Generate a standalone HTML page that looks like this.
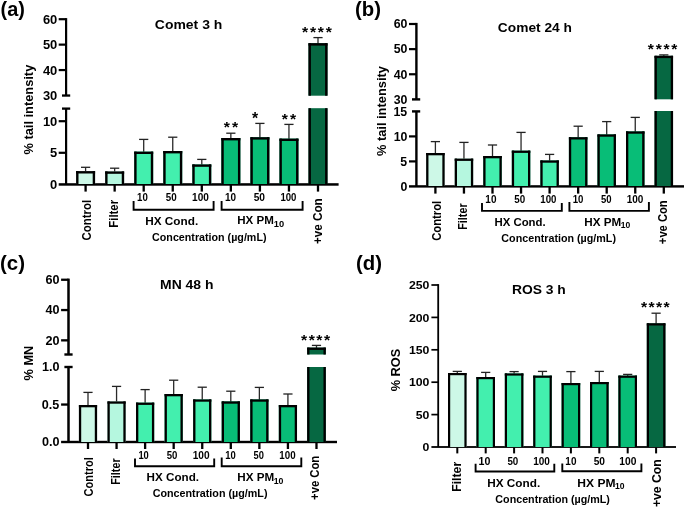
<!DOCTYPE html>
<html><head><meta charset="utf-8"><style>
html,body{margin:0;padding:0;background:#fff;}
body{width:685px;height:511px;overflow:hidden;}
svg{display:block;font-family:"Liberation Sans", sans-serif;will-change:transform;}
</style></head><body>
<svg width="685" height="511" viewBox="0 0 685 511">
<rect x="65.00" y="18.10" width="2.20" height="77.39" fill="#000"/>
<rect x="58.70" y="18.10" width="7.40" height="2.20" fill="#000"/>
<rect x="58.70" y="43.53" width="7.40" height="2.20" fill="#000"/>
<rect x="58.70" y="68.96" width="7.40" height="2.20" fill="#000"/>
<rect x="62.00" y="94.39" width="8.20" height="2.30" fill="#000"/>
<rect x="65.00" y="108.56" width="2.20" height="75.84" fill="#000"/>
<rect x="62.00" y="107.46" width="8.20" height="2.30" fill="#000"/>
<rect x="58.70" y="120.10" width="7.40" height="2.20" fill="#000"/>
<rect x="58.70" y="151.70" width="7.40" height="2.20" fill="#000"/>
<rect x="58.70" y="183.20" width="279.90" height="2.50" fill="#000"/>
<text x="42.93" y="23.80" font-size="12" font-weight="bold" textLength="14.42" lengthAdjust="spacingAndGlyphs" fill="#000">60</text>
<text x="42.93" y="49.23" font-size="12" font-weight="bold" textLength="14.42" lengthAdjust="spacingAndGlyphs" fill="#000">50</text>
<text x="42.93" y="74.66" font-size="12" font-weight="bold" textLength="14.42" lengthAdjust="spacingAndGlyphs" fill="#000">40</text>
<text x="42.93" y="100.09" font-size="12" font-weight="bold" textLength="14.42" lengthAdjust="spacingAndGlyphs" fill="#000">30</text>
<text x="42.93" y="125.80" font-size="12" font-weight="bold" textLength="14.42" lengthAdjust="spacingAndGlyphs" fill="#000">10</text>
<text x="49.93" y="157.40" font-size="12" font-weight="bold" textLength="7.21" lengthAdjust="spacingAndGlyphs" fill="#000">5</text>
<text x="50.13" y="189.00" font-size="12" font-weight="bold" textLength="7.21" lengthAdjust="spacingAndGlyphs" fill="#000">0</text>
<line x1="85.60" y1="167.30" x2="85.60" y2="172.10" stroke="#2a2a2a" stroke-width="1.3"/>
<line x1="81.00" y1="167.30" x2="90.20" y2="167.30" stroke="#222" stroke-width="1.3"/>
<rect x="76.10" y="171.10" width="19.00" height="12.90" fill="#cdf8e7"/>
<rect x="76.10" y="171.10" width="2.40" height="12.90" fill="#000"/>
<rect x="92.70" y="171.10" width="2.40" height="12.90" fill="#000"/>
<rect x="76.10" y="171.10" width="19.00" height="2.40" fill="#000"/>
<line x1="114.65" y1="168.20" x2="114.65" y2="172.40" stroke="#2a2a2a" stroke-width="1.3"/>
<line x1="110.05" y1="168.20" x2="119.25" y2="168.20" stroke="#222" stroke-width="1.3"/>
<rect x="105.15" y="171.40" width="19.00" height="12.60" fill="#b5f7df"/>
<rect x="105.15" y="171.40" width="2.40" height="12.60" fill="#000"/>
<rect x="121.75" y="171.40" width="2.40" height="12.60" fill="#000"/>
<rect x="105.15" y="171.40" width="19.00" height="2.40" fill="#000"/>
<line x1="143.70" y1="139.40" x2="143.70" y2="152.60" stroke="#2a2a2a" stroke-width="1.3"/>
<line x1="139.10" y1="139.40" x2="148.30" y2="139.40" stroke="#222" stroke-width="1.3"/>
<rect x="134.20" y="151.60" width="19.00" height="32.40" fill="#43efae"/>
<rect x="134.20" y="151.60" width="2.40" height="32.40" fill="#000"/>
<rect x="150.80" y="151.60" width="2.40" height="32.40" fill="#000"/>
<rect x="134.20" y="151.60" width="19.00" height="2.40" fill="#000"/>
<line x1="172.75" y1="137.20" x2="172.75" y2="152.00" stroke="#2a2a2a" stroke-width="1.3"/>
<line x1="168.15" y1="137.20" x2="177.35" y2="137.20" stroke="#222" stroke-width="1.3"/>
<rect x="163.25" y="151.00" width="19.00" height="33.00" fill="#43efae"/>
<rect x="163.25" y="151.00" width="2.40" height="33.00" fill="#000"/>
<rect x="179.85" y="151.00" width="2.40" height="33.00" fill="#000"/>
<rect x="163.25" y="151.00" width="19.00" height="2.40" fill="#000"/>
<line x1="201.80" y1="159.40" x2="201.80" y2="165.40" stroke="#2a2a2a" stroke-width="1.3"/>
<line x1="197.20" y1="159.40" x2="206.40" y2="159.40" stroke="#222" stroke-width="1.3"/>
<rect x="192.30" y="164.40" width="19.00" height="19.60" fill="#43efae"/>
<rect x="192.30" y="164.40" width="2.40" height="19.60" fill="#000"/>
<rect x="208.90" y="164.40" width="2.40" height="19.60" fill="#000"/>
<rect x="192.30" y="164.40" width="19.00" height="2.40" fill="#000"/>
<line x1="230.85" y1="133.20" x2="230.85" y2="139.00" stroke="#2a2a2a" stroke-width="1.3"/>
<line x1="226.25" y1="133.20" x2="235.45" y2="133.20" stroke="#222" stroke-width="1.3"/>
<rect x="221.35" y="138.00" width="19.00" height="46.00" fill="#08bd77"/>
<rect x="221.35" y="138.00" width="2.40" height="46.00" fill="#000"/>
<rect x="237.95" y="138.00" width="2.40" height="46.00" fill="#000"/>
<rect x="221.35" y="138.00" width="19.00" height="2.40" fill="#000"/>
<line x1="259.90" y1="123.40" x2="259.90" y2="138.20" stroke="#2a2a2a" stroke-width="1.3"/>
<line x1="255.30" y1="123.40" x2="264.50" y2="123.40" stroke="#222" stroke-width="1.3"/>
<rect x="250.40" y="137.20" width="19.00" height="46.80" fill="#08bd77"/>
<rect x="250.40" y="137.20" width="2.40" height="46.80" fill="#000"/>
<rect x="267.00" y="137.20" width="2.40" height="46.80" fill="#000"/>
<rect x="250.40" y="137.20" width="19.00" height="2.40" fill="#000"/>
<line x1="288.95" y1="124.40" x2="288.95" y2="139.60" stroke="#2a2a2a" stroke-width="1.3"/>
<line x1="284.35" y1="124.40" x2="293.55" y2="124.40" stroke="#222" stroke-width="1.3"/>
<rect x="279.45" y="138.60" width="19.00" height="45.40" fill="#08bd77"/>
<rect x="279.45" y="138.60" width="2.40" height="45.40" fill="#000"/>
<rect x="296.05" y="138.60" width="2.40" height="45.40" fill="#000"/>
<rect x="279.45" y="138.60" width="19.00" height="2.40" fill="#000"/>
<line x1="318.00" y1="37.60" x2="318.00" y2="44.20" stroke="#2a2a2a" stroke-width="1.3"/>
<line x1="313.40" y1="37.60" x2="322.60" y2="37.60" stroke="#222" stroke-width="1.3"/>
<rect x="308.50" y="43.20" width="19.00" height="52.50" fill="#066842"/>
<rect x="308.50" y="43.20" width="2.40" height="52.50" fill="#000"/>
<rect x="325.10" y="43.20" width="2.40" height="52.50" fill="#000"/>
<rect x="308.50" y="43.20" width="19.00" height="2.40" fill="#000"/>
<rect x="308.50" y="108.20" width="19.00" height="75.80" fill="#066842"/>
<rect x="308.50" y="108.20" width="2.40" height="75.80" fill="#000"/>
<rect x="325.10" y="108.20" width="2.40" height="75.80" fill="#000"/>
<rect x="84.45" y="185.00" width="2.30" height="6.60" fill="#000"/>
<rect x="113.50" y="185.00" width="2.30" height="6.60" fill="#000"/>
<rect x="142.55" y="185.00" width="2.30" height="6.60" fill="#000"/>
<rect x="171.60" y="185.00" width="2.30" height="6.60" fill="#000"/>
<rect x="200.65" y="185.00" width="2.30" height="6.60" fill="#000"/>
<rect x="229.70" y="185.00" width="2.30" height="6.60" fill="#000"/>
<rect x="258.75" y="185.00" width="2.30" height="6.60" fill="#000"/>
<rect x="287.80" y="185.00" width="2.30" height="6.60" fill="#000"/>
<rect x="316.85" y="185.00" width="2.30" height="6.60" fill="#000"/>
<text x="223.82" y="132.43" font-size="15.41" font-weight="bold" textLength="6.14" lengthAdjust="spacingAndGlyphs" fill="#000">*</text>
<text x="231.92" y="132.43" font-size="15.41" font-weight="bold" textLength="6.14" lengthAdjust="spacingAndGlyphs" fill="#000">*</text>
<text x="251.92" y="123.79" font-size="16.22" font-weight="bold" textLength="6.14" lengthAdjust="spacingAndGlyphs" fill="#000">*</text>
<text x="281.72" y="124.44" font-size="15.14" font-weight="bold" textLength="6.14" lengthAdjust="spacingAndGlyphs" fill="#000">*</text>
<text x="289.92" y="124.44" font-size="15.14" font-weight="bold" textLength="6.14" lengthAdjust="spacingAndGlyphs" fill="#000">*</text>
<text x="302.02" y="36.86" font-size="14.86" font-weight="bold" textLength="6.14" lengthAdjust="spacingAndGlyphs" fill="#000">*</text>
<text x="309.92" y="36.86" font-size="14.86" font-weight="bold" textLength="6.14" lengthAdjust="spacingAndGlyphs" fill="#000">*</text>
<text x="317.82" y="36.86" font-size="14.86" font-weight="bold" textLength="6.14" lengthAdjust="spacingAndGlyphs" fill="#000">*</text>
<text x="325.72" y="36.86" font-size="14.86" font-weight="bold" textLength="6.14" lengthAdjust="spacingAndGlyphs" fill="#000">*</text>
<text x="154.84" y="28.90" font-size="13.6" font-weight="bold" textLength="67.48" lengthAdjust="spacingAndGlyphs" fill="#000">Comet 3 h</text>
<text x="0.50" y="15.60" font-size="20" font-weight="bold" textLength="24.34" lengthAdjust="spacingAndGlyphs" fill="#000">(a)</text>
<text transform="translate(33.20,154.52) rotate(-90)" font-size="12.8" font-weight="bold" textLength="89.80" lengthAdjust="spacingAndGlyphs">% tail intensity</text>
<text transform="translate(91.00,240.46) rotate(-90)" font-size="12" font-weight="bold" textLength="40.51" lengthAdjust="spacingAndGlyphs">Control</text>
<text transform="translate(118.00,227.74) rotate(-90)" font-size="12" font-weight="bold" textLength="27.91" lengthAdjust="spacingAndGlyphs">Filter</text>
<text transform="translate(322.00,244.07) rotate(-90)" font-size="12" font-weight="bold" textLength="45.80" lengthAdjust="spacingAndGlyphs">+ve Con</text>
<text x="137.07" y="201.40" font-size="10" font-weight="bold" textLength="10.74" lengthAdjust="spacingAndGlyphs" fill="#000">10</text>
<text x="165.71" y="201.40" font-size="10" font-weight="bold" textLength="10.91" lengthAdjust="spacingAndGlyphs" fill="#000">50</text>
<text x="192.05" y="201.40" font-size="10" font-weight="bold" textLength="16.79" lengthAdjust="spacingAndGlyphs" fill="#000">100</text>
<text x="224.95" y="201.40" font-size="10" font-weight="bold" textLength="11.07" lengthAdjust="spacingAndGlyphs" fill="#000">10</text>
<text x="253.69" y="201.40" font-size="10" font-weight="bold" textLength="11.34" lengthAdjust="spacingAndGlyphs" fill="#000">50</text>
<text x="280.38" y="201.40" font-size="10" font-weight="bold" textLength="16.04" lengthAdjust="spacingAndGlyphs" fill="#000">100</text>
<path d="M133.6,201 V209.8 H213.6 V201" stroke="#000" stroke-width="1.9" fill="none"/>
<path d="M221.6,201 V209.8 H302.6 V201" stroke="#000" stroke-width="1.9" fill="none"/>
<text x="145.23" y="224.80" font-size="11" font-weight="bold" textLength="52.99" lengthAdjust="spacingAndGlyphs" fill="#000">HX Cond.</text>
<text x="237.25" y="224.10" font-size="11" font-weight="bold" textLength="36.63" lengthAdjust="spacingAndGlyphs" fill="#000">HX PM</text>
<text x="273.89" y="226.60" font-size="9" font-weight="bold" textLength="10.40" lengthAdjust="spacingAndGlyphs" fill="#000">10</text>
<text x="152.07" y="240.80" font-size="10.8" font-weight="bold" textLength="114.43" lengthAdjust="spacingAndGlyphs" fill="#000">Concentration (µg/mL)</text>
<rect x="415.20" y="22.90" width="2.40" height="76.49" fill="#000"/>
<rect x="409.00" y="22.90" width="7.40" height="2.20" fill="#000"/>
<rect x="409.00" y="48.03" width="7.40" height="2.20" fill="#000"/>
<rect x="409.00" y="73.16" width="7.40" height="2.20" fill="#000"/>
<rect x="412.00" y="98.19" width="8.20" height="2.40" fill="#000"/>
<rect x="415.20" y="111.40" width="2.40" height="75.00" fill="#000"/>
<rect x="412.00" y="110.20" width="8.20" height="2.40" fill="#000"/>
<rect x="409.00" y="135.30" width="7.40" height="2.20" fill="#000"/>
<rect x="409.00" y="160.30" width="7.40" height="2.20" fill="#000"/>
<rect x="409.00" y="185.20" width="275.00" height="2.40" fill="#000"/>
<text x="393.67" y="28.30" font-size="12" font-weight="bold" textLength="13.75" lengthAdjust="spacingAndGlyphs" fill="#000">60</text>
<text x="393.67" y="53.43" font-size="12" font-weight="bold" textLength="13.75" lengthAdjust="spacingAndGlyphs" fill="#000">50</text>
<text x="393.67" y="78.56" font-size="12" font-weight="bold" textLength="13.75" lengthAdjust="spacingAndGlyphs" fill="#000">40</text>
<text x="393.67" y="103.69" font-size="12" font-weight="bold" textLength="13.75" lengthAdjust="spacingAndGlyphs" fill="#000">30</text>
<text x="393.49" y="115.70" font-size="12" font-weight="bold" textLength="13.75" lengthAdjust="spacingAndGlyphs" fill="#000">15</text>
<text x="393.67" y="140.70" font-size="12" font-weight="bold" textLength="13.75" lengthAdjust="spacingAndGlyphs" fill="#000">10</text>
<text x="400.35" y="165.70" font-size="12" font-weight="bold" textLength="6.87" lengthAdjust="spacingAndGlyphs" fill="#000">5</text>
<text x="400.53" y="190.70" font-size="12" font-weight="bold" textLength="6.87" lengthAdjust="spacingAndGlyphs" fill="#000">0</text>
<line x1="435.40" y1="141.60" x2="435.40" y2="154.00" stroke="#2a2a2a" stroke-width="1.3"/>
<line x1="430.80" y1="141.60" x2="440.00" y2="141.60" stroke="#222" stroke-width="1.3"/>
<rect x="426.15" y="153.00" width="18.50" height="33.00" fill="#cdf8e7"/>
<rect x="426.15" y="153.00" width="2.30" height="33.00" fill="#000"/>
<rect x="442.35" y="153.00" width="2.30" height="33.00" fill="#000"/>
<rect x="426.15" y="153.00" width="18.50" height="2.30" fill="#000"/>
<line x1="463.95" y1="142.40" x2="463.95" y2="159.60" stroke="#2a2a2a" stroke-width="1.3"/>
<line x1="459.35" y1="142.40" x2="468.55" y2="142.40" stroke="#222" stroke-width="1.3"/>
<rect x="454.70" y="158.60" width="18.50" height="27.40" fill="#b5f7df"/>
<rect x="454.70" y="158.60" width="2.30" height="27.40" fill="#000"/>
<rect x="470.90" y="158.60" width="2.30" height="27.40" fill="#000"/>
<rect x="454.70" y="158.60" width="18.50" height="2.30" fill="#000"/>
<line x1="492.50" y1="145.00" x2="492.50" y2="157.00" stroke="#2a2a2a" stroke-width="1.3"/>
<line x1="487.90" y1="145.00" x2="497.10" y2="145.00" stroke="#222" stroke-width="1.3"/>
<rect x="483.25" y="156.00" width="18.50" height="30.00" fill="#43efae"/>
<rect x="483.25" y="156.00" width="2.30" height="30.00" fill="#000"/>
<rect x="499.45" y="156.00" width="2.30" height="30.00" fill="#000"/>
<rect x="483.25" y="156.00" width="18.50" height="2.30" fill="#000"/>
<line x1="521.05" y1="132.40" x2="521.05" y2="151.60" stroke="#2a2a2a" stroke-width="1.3"/>
<line x1="516.45" y1="132.40" x2="525.65" y2="132.40" stroke="#222" stroke-width="1.3"/>
<rect x="511.80" y="150.60" width="18.50" height="35.40" fill="#43efae"/>
<rect x="511.80" y="150.60" width="2.30" height="35.40" fill="#000"/>
<rect x="528.00" y="150.60" width="2.30" height="35.40" fill="#000"/>
<rect x="511.80" y="150.60" width="18.50" height="2.30" fill="#000"/>
<line x1="549.60" y1="154.40" x2="549.60" y2="161.40" stroke="#2a2a2a" stroke-width="1.3"/>
<line x1="545.00" y1="154.40" x2="554.20" y2="154.40" stroke="#222" stroke-width="1.3"/>
<rect x="540.35" y="160.40" width="18.50" height="25.60" fill="#43efae"/>
<rect x="540.35" y="160.40" width="2.30" height="25.60" fill="#000"/>
<rect x="556.55" y="160.40" width="2.30" height="25.60" fill="#000"/>
<rect x="540.35" y="160.40" width="18.50" height="2.30" fill="#000"/>
<line x1="578.15" y1="126.20" x2="578.15" y2="138.20" stroke="#2a2a2a" stroke-width="1.3"/>
<line x1="573.55" y1="126.20" x2="582.75" y2="126.20" stroke="#222" stroke-width="1.3"/>
<rect x="568.90" y="137.20" width="18.50" height="48.80" fill="#08bd77"/>
<rect x="568.90" y="137.20" width="2.30" height="48.80" fill="#000"/>
<rect x="585.10" y="137.20" width="2.30" height="48.80" fill="#000"/>
<rect x="568.90" y="137.20" width="18.50" height="2.30" fill="#000"/>
<line x1="606.70" y1="121.60" x2="606.70" y2="135.40" stroke="#2a2a2a" stroke-width="1.3"/>
<line x1="602.10" y1="121.60" x2="611.30" y2="121.60" stroke="#222" stroke-width="1.3"/>
<rect x="597.45" y="134.40" width="18.50" height="51.60" fill="#08bd77"/>
<rect x="597.45" y="134.40" width="2.30" height="51.60" fill="#000"/>
<rect x="613.65" y="134.40" width="2.30" height="51.60" fill="#000"/>
<rect x="597.45" y="134.40" width="18.50" height="2.30" fill="#000"/>
<line x1="635.25" y1="117.40" x2="635.25" y2="132.40" stroke="#2a2a2a" stroke-width="1.3"/>
<line x1="630.65" y1="117.40" x2="639.85" y2="117.40" stroke="#222" stroke-width="1.3"/>
<rect x="626.00" y="131.40" width="18.50" height="54.60" fill="#08bd77"/>
<rect x="626.00" y="131.40" width="2.30" height="54.60" fill="#000"/>
<rect x="642.20" y="131.40" width="2.30" height="54.60" fill="#000"/>
<rect x="626.00" y="131.40" width="18.50" height="2.30" fill="#000"/>
<line x1="663.80" y1="54.90" x2="663.80" y2="56.80" stroke="#2a2a2a" stroke-width="1.3"/>
<line x1="659.20" y1="54.90" x2="668.40" y2="54.90" stroke="#222" stroke-width="1.3"/>
<rect x="654.55" y="55.80" width="18.50" height="43.50" fill="#066842"/>
<rect x="654.55" y="55.80" width="2.30" height="43.50" fill="#000"/>
<rect x="670.75" y="55.80" width="2.30" height="43.50" fill="#000"/>
<rect x="654.55" y="55.80" width="18.50" height="2.30" fill="#000"/>
<rect x="654.55" y="111.00" width="18.50" height="75.00" fill="#066842"/>
<rect x="654.55" y="111.00" width="2.30" height="75.00" fill="#000"/>
<rect x="670.75" y="111.00" width="2.30" height="75.00" fill="#000"/>
<rect x="434.25" y="187.00" width="2.30" height="6.60" fill="#000"/>
<rect x="462.80" y="187.00" width="2.30" height="6.60" fill="#000"/>
<rect x="491.35" y="187.00" width="2.30" height="6.60" fill="#000"/>
<rect x="519.90" y="187.00" width="2.30" height="6.60" fill="#000"/>
<rect x="548.45" y="187.00" width="2.30" height="6.60" fill="#000"/>
<rect x="577.00" y="187.00" width="2.30" height="6.60" fill="#000"/>
<rect x="605.55" y="187.00" width="2.30" height="6.60" fill="#000"/>
<rect x="634.10" y="187.00" width="2.30" height="6.60" fill="#000"/>
<rect x="662.65" y="187.00" width="2.30" height="6.60" fill="#000"/>
<text x="647.82" y="53.57" font-size="14.59" font-weight="bold" textLength="6.14" lengthAdjust="spacingAndGlyphs" fill="#000">*</text>
<text x="655.65" y="53.57" font-size="14.59" font-weight="bold" textLength="6.14" lengthAdjust="spacingAndGlyphs" fill="#000">*</text>
<text x="663.49" y="53.57" font-size="14.59" font-weight="bold" textLength="6.14" lengthAdjust="spacingAndGlyphs" fill="#000">*</text>
<text x="671.32" y="53.57" font-size="14.59" font-weight="bold" textLength="6.14" lengthAdjust="spacingAndGlyphs" fill="#000">*</text>
<text x="497.85" y="32.00" font-size="13.6" font-weight="bold" textLength="74.08" lengthAdjust="spacingAndGlyphs" fill="#000">Comet 24 h</text>
<text x="355.08" y="15.50" font-size="20" font-weight="bold" textLength="25.97" lengthAdjust="spacingAndGlyphs" fill="#000">(b)</text>
<text transform="translate(385.80,156.12) rotate(-90)" font-size="12.6" font-weight="bold" textLength="90.01" lengthAdjust="spacingAndGlyphs">% tail intensity</text>
<text transform="translate(441.00,240.85) rotate(-90)" font-size="12" font-weight="bold" textLength="40.09" lengthAdjust="spacingAndGlyphs">Control</text>
<text transform="translate(467.00,229.70) rotate(-90)" font-size="12" font-weight="bold" textLength="26.26" lengthAdjust="spacingAndGlyphs">Filter</text>
<text transform="translate(666.60,244.15) rotate(-90)" font-size="12" font-weight="bold" textLength="43.85" lengthAdjust="spacingAndGlyphs">+ve Con</text>
<text x="485.35" y="202.90" font-size="10" font-weight="bold" textLength="11.07" lengthAdjust="spacingAndGlyphs" fill="#000">10</text>
<text x="514.21" y="202.90" font-size="10" font-weight="bold" textLength="10.91" lengthAdjust="spacingAndGlyphs" fill="#000">50</text>
<text x="540.27" y="202.90" font-size="10" font-weight="bold" textLength="16.15" lengthAdjust="spacingAndGlyphs" fill="#000">100</text>
<text x="572.67" y="202.90" font-size="10" font-weight="bold" textLength="10.74" lengthAdjust="spacingAndGlyphs" fill="#000">10</text>
<text x="600.91" y="202.90" font-size="10" font-weight="bold" textLength="10.59" lengthAdjust="spacingAndGlyphs" fill="#000">50</text>
<text x="626.65" y="202.90" font-size="10" font-weight="bold" textLength="16.69" lengthAdjust="spacingAndGlyphs" fill="#000">100</text>
<path d="M482,203 V210.9 H561.8 V203" stroke="#000" stroke-width="1.9" fill="none"/>
<path d="M569.4,202 V210.9 H648.9 V202" stroke="#000" stroke-width="1.9" fill="none"/>
<text x="494.46" y="225.80" font-size="11" font-weight="bold" textLength="51.23" lengthAdjust="spacingAndGlyphs" fill="#000">HX Cond.</text>
<text x="584.34" y="225.60" font-size="11" font-weight="bold" textLength="36.94" lengthAdjust="spacingAndGlyphs" fill="#000">HX PM</text>
<text x="620.74" y="227.80" font-size="9" font-weight="bold" textLength="9.52" lengthAdjust="spacingAndGlyphs" fill="#000">10</text>
<text x="501.37" y="241.90" font-size="10.8" font-weight="bold" textLength="114.63" lengthAdjust="spacingAndGlyphs" fill="#000">Concentration (µg/mL)</text>
<rect x="67.25" y="278.60" width="2.50" height="75.90" fill="#000"/>
<rect x="61.10" y="278.60" width="7.40" height="2.30" fill="#000"/>
<rect x="61.10" y="308.90" width="7.40" height="2.30" fill="#000"/>
<rect x="61.10" y="339.20" width="7.40" height="2.30" fill="#000"/>
<rect x="64.40" y="353.30" width="8.20" height="2.40" fill="#000"/>
<rect x="67.25" y="367.00" width="2.50" height="75.00" fill="#000"/>
<rect x="64.40" y="365.80" width="8.20" height="2.40" fill="#000"/>
<rect x="61.10" y="403.40" width="7.40" height="2.30" fill="#000"/>
<rect x="61.10" y="440.80" width="275.90" height="2.40" fill="#000"/>
<text x="45.62" y="284.00" font-size="12" font-weight="bold" textLength="14.02" lengthAdjust="spacingAndGlyphs" fill="#000">60</text>
<text x="45.62" y="314.30" font-size="12" font-weight="bold" textLength="14.02" lengthAdjust="spacingAndGlyphs" fill="#000">40</text>
<text x="45.62" y="344.60" font-size="12" font-weight="bold" textLength="14.02" lengthAdjust="spacingAndGlyphs" fill="#000">20</text>
<text x="41.99" y="371.30" font-size="12" font-weight="bold" textLength="17.52" lengthAdjust="spacingAndGlyphs" fill="#000">1.0</text>
<text x="41.80" y="408.80" font-size="12" font-weight="bold" textLength="17.52" lengthAdjust="spacingAndGlyphs" fill="#000">0.5</text>
<text x="41.99" y="446.30" font-size="12" font-weight="bold" textLength="17.52" lengthAdjust="spacingAndGlyphs" fill="#000">0.0</text>
<line x1="88.00" y1="392.40" x2="88.00" y2="406.00" stroke="#2a2a2a" stroke-width="1.3"/>
<line x1="83.40" y1="392.40" x2="92.60" y2="392.40" stroke="#222" stroke-width="1.3"/>
<rect x="78.90" y="405.00" width="18.20" height="37.00" fill="#cdf8e7"/>
<rect x="78.90" y="405.00" width="2.30" height="37.00" fill="#000"/>
<rect x="94.80" y="405.00" width="2.30" height="37.00" fill="#000"/>
<rect x="78.90" y="405.00" width="18.20" height="2.30" fill="#000"/>
<line x1="116.56" y1="386.40" x2="116.56" y2="402.40" stroke="#2a2a2a" stroke-width="1.3"/>
<line x1="111.96" y1="386.40" x2="121.16" y2="386.40" stroke="#222" stroke-width="1.3"/>
<rect x="107.46" y="401.40" width="18.20" height="40.60" fill="#b5f7df"/>
<rect x="107.46" y="401.40" width="2.30" height="40.60" fill="#000"/>
<rect x="123.36" y="401.40" width="2.30" height="40.60" fill="#000"/>
<rect x="107.46" y="401.40" width="18.20" height="2.30" fill="#000"/>
<line x1="145.12" y1="389.60" x2="145.12" y2="403.60" stroke="#2a2a2a" stroke-width="1.3"/>
<line x1="140.52" y1="389.60" x2="149.72" y2="389.60" stroke="#222" stroke-width="1.3"/>
<rect x="136.02" y="402.60" width="18.20" height="39.40" fill="#43efae"/>
<rect x="136.02" y="402.60" width="2.30" height="39.40" fill="#000"/>
<rect x="151.92" y="402.60" width="2.30" height="39.40" fill="#000"/>
<rect x="136.02" y="402.60" width="18.20" height="2.30" fill="#000"/>
<line x1="173.68" y1="380.20" x2="173.68" y2="395.00" stroke="#2a2a2a" stroke-width="1.3"/>
<line x1="169.08" y1="380.20" x2="178.28" y2="380.20" stroke="#222" stroke-width="1.3"/>
<rect x="164.58" y="394.00" width="18.20" height="48.00" fill="#43efae"/>
<rect x="164.58" y="394.00" width="2.30" height="48.00" fill="#000"/>
<rect x="180.48" y="394.00" width="2.30" height="48.00" fill="#000"/>
<rect x="164.58" y="394.00" width="18.20" height="2.30" fill="#000"/>
<line x1="202.24" y1="387.20" x2="202.24" y2="400.40" stroke="#2a2a2a" stroke-width="1.3"/>
<line x1="197.64" y1="387.20" x2="206.84" y2="387.20" stroke="#222" stroke-width="1.3"/>
<rect x="193.14" y="399.40" width="18.20" height="42.60" fill="#43efae"/>
<rect x="193.14" y="399.40" width="2.30" height="42.60" fill="#000"/>
<rect x="209.04" y="399.40" width="2.30" height="42.60" fill="#000"/>
<rect x="193.14" y="399.40" width="18.20" height="2.30" fill="#000"/>
<line x1="230.80" y1="391.20" x2="230.80" y2="402.40" stroke="#2a2a2a" stroke-width="1.3"/>
<line x1="226.20" y1="391.20" x2="235.40" y2="391.20" stroke="#222" stroke-width="1.3"/>
<rect x="221.70" y="401.40" width="18.20" height="40.60" fill="#08bd77"/>
<rect x="221.70" y="401.40" width="2.30" height="40.60" fill="#000"/>
<rect x="237.60" y="401.40" width="2.30" height="40.60" fill="#000"/>
<rect x="221.70" y="401.40" width="18.20" height="2.30" fill="#000"/>
<line x1="259.36" y1="387.40" x2="259.36" y2="400.40" stroke="#2a2a2a" stroke-width="1.3"/>
<line x1="254.76" y1="387.40" x2="263.96" y2="387.40" stroke="#222" stroke-width="1.3"/>
<rect x="250.26" y="399.40" width="18.20" height="42.60" fill="#08bd77"/>
<rect x="250.26" y="399.40" width="2.30" height="42.60" fill="#000"/>
<rect x="266.16" y="399.40" width="2.30" height="42.60" fill="#000"/>
<rect x="250.26" y="399.40" width="18.20" height="2.30" fill="#000"/>
<line x1="287.92" y1="394.00" x2="287.92" y2="406.00" stroke="#2a2a2a" stroke-width="1.3"/>
<line x1="283.32" y1="394.00" x2="292.52" y2="394.00" stroke="#222" stroke-width="1.3"/>
<rect x="278.82" y="405.00" width="18.20" height="37.00" fill="#08bd77"/>
<rect x="278.82" y="405.00" width="2.30" height="37.00" fill="#000"/>
<rect x="294.72" y="405.00" width="2.30" height="37.00" fill="#000"/>
<rect x="278.82" y="405.00" width="18.20" height="2.30" fill="#000"/>
<line x1="316.48" y1="345.40" x2="316.48" y2="348.60" stroke="#2a2a2a" stroke-width="1.3"/>
<line x1="311.88" y1="345.40" x2="321.08" y2="345.40" stroke="#222" stroke-width="1.3"/>
<rect x="307.18" y="347.60" width="18.60" height="6.90" fill="#066842"/>
<rect x="307.18" y="347.60" width="2.30" height="6.90" fill="#000"/>
<rect x="323.48" y="347.60" width="2.30" height="6.90" fill="#000"/>
<rect x="307.18" y="347.60" width="18.60" height="2.30" fill="#000"/>
<rect x="307.18" y="367.00" width="18.60" height="75.00" fill="#066842"/>
<rect x="307.18" y="367.00" width="2.30" height="75.00" fill="#000"/>
<rect x="323.48" y="367.00" width="2.30" height="75.00" fill="#000"/>
<rect x="86.85" y="442.50" width="2.30" height="6.50" fill="#000"/>
<rect x="115.41" y="442.50" width="2.30" height="6.50" fill="#000"/>
<rect x="143.97" y="442.50" width="2.30" height="6.50" fill="#000"/>
<rect x="172.53" y="442.50" width="2.30" height="6.50" fill="#000"/>
<rect x="201.09" y="442.50" width="2.30" height="6.50" fill="#000"/>
<rect x="229.65" y="442.50" width="2.30" height="6.50" fill="#000"/>
<rect x="258.21" y="442.50" width="2.30" height="6.50" fill="#000"/>
<rect x="286.77" y="442.50" width="2.30" height="6.50" fill="#000"/>
<rect x="315.33" y="442.50" width="2.30" height="6.50" fill="#000"/>
<text x="300.92" y="344.98" font-size="14.32" font-weight="bold" textLength="6.14" lengthAdjust="spacingAndGlyphs" fill="#000">*</text>
<text x="308.65" y="344.98" font-size="14.32" font-weight="bold" textLength="6.14" lengthAdjust="spacingAndGlyphs" fill="#000">*</text>
<text x="316.39" y="344.98" font-size="14.32" font-weight="bold" textLength="6.14" lengthAdjust="spacingAndGlyphs" fill="#000">*</text>
<text x="324.12" y="344.98" font-size="14.32" font-weight="bold" textLength="6.14" lengthAdjust="spacingAndGlyphs" fill="#000">*</text>
<text x="160.09" y="288.90" font-size="13.6" font-weight="bold" textLength="53.43" lengthAdjust="spacingAndGlyphs" fill="#000">MN 48 h</text>
<text x="-0.02" y="269.80" font-size="20" font-weight="bold" textLength="24.99" lengthAdjust="spacingAndGlyphs" fill="#000">(c)</text>
<text transform="translate(33.10,380.42) rotate(-90)" font-size="13.6" font-weight="bold" textLength="34.67" lengthAdjust="spacingAndGlyphs">% MN</text>
<text transform="translate(92.60,496.44) rotate(-90)" font-size="12" font-weight="bold" textLength="39.27" lengthAdjust="spacingAndGlyphs">Control</text>
<text transform="translate(119.60,484.70) rotate(-90)" font-size="12" font-weight="bold" textLength="26.26" lengthAdjust="spacingAndGlyphs">Filter</text>
<text transform="translate(319.40,499.95) rotate(-90)" font-size="12" font-weight="bold" textLength="44.16" lengthAdjust="spacingAndGlyphs">+ve Con</text>
<text x="138.39" y="458.70" font-size="10" font-weight="bold" textLength="10.40" lengthAdjust="spacingAndGlyphs" fill="#000">10</text>
<text x="166.71" y="458.70" font-size="10" font-weight="bold" textLength="10.70" lengthAdjust="spacingAndGlyphs" fill="#000">50</text>
<text x="192.74" y="458.70" font-size="10" font-weight="bold" textLength="16.90" lengthAdjust="spacingAndGlyphs" fill="#000">100</text>
<text x="225.19" y="458.70" font-size="10" font-weight="bold" textLength="10.51" lengthAdjust="spacingAndGlyphs" fill="#000">10</text>
<text x="253.52" y="458.70" font-size="10" font-weight="bold" textLength="10.37" lengthAdjust="spacingAndGlyphs" fill="#000">50</text>
<text x="279.37" y="458.70" font-size="10" font-weight="bold" textLength="16.26" lengthAdjust="spacingAndGlyphs" fill="#000">100</text>
<path d="M135,458.6 V466.2 H214.2 V458.6" stroke="#000" stroke-width="1.9" fill="none"/>
<path d="M221.7,457.6 V466.2 H301.3 V457.6" stroke="#000" stroke-width="1.9" fill="none"/>
<text x="146.64" y="481.30" font-size="11" font-weight="bold" textLength="52.37" lengthAdjust="spacingAndGlyphs" fill="#000">HX Cond.</text>
<text x="237.34" y="480.90" font-size="11" font-weight="bold" textLength="36.94" lengthAdjust="spacingAndGlyphs" fill="#000">HX PM</text>
<text x="273.63" y="483.60" font-size="9" font-weight="bold" textLength="9.74" lengthAdjust="spacingAndGlyphs" fill="#000">10</text>
<text x="152.67" y="496.70" font-size="10.8" font-weight="bold" textLength="114.83" lengthAdjust="spacingAndGlyphs" fill="#000">Concentration (µg/mL)</text>
<rect x="437.30" y="284.10" width="1.80" height="162.90" fill="#000"/>
<rect x="431.40" y="284.15" width="6.80" height="1.70" fill="#000"/>
<rect x="431.40" y="316.55" width="6.80" height="1.70" fill="#000"/>
<rect x="431.40" y="348.95" width="6.80" height="1.70" fill="#000"/>
<rect x="431.40" y="381.35" width="6.80" height="1.70" fill="#000"/>
<rect x="431.40" y="413.75" width="6.80" height="1.70" fill="#000"/>
<rect x="431.40" y="446.10" width="244.60" height="1.80" fill="#000"/>
<text x="408.92" y="289.10" font-size="11.6" font-weight="bold" textLength="20.52" lengthAdjust="spacingAndGlyphs" fill="#000">250</text>
<text x="408.92" y="321.50" font-size="11.6" font-weight="bold" textLength="20.52" lengthAdjust="spacingAndGlyphs" fill="#000">200</text>
<text x="408.92" y="353.90" font-size="11.6" font-weight="bold" textLength="20.52" lengthAdjust="spacingAndGlyphs" fill="#000">150</text>
<text x="408.92" y="386.30" font-size="11.6" font-weight="bold" textLength="20.52" lengthAdjust="spacingAndGlyphs" fill="#000">100</text>
<text x="415.74" y="418.70" font-size="11.6" font-weight="bold" textLength="13.68" lengthAdjust="spacingAndGlyphs" fill="#000">50</text>
<text x="422.57" y="451.10" font-size="11.6" font-weight="bold" textLength="6.84" lengthAdjust="spacingAndGlyphs" fill="#000">0</text>
<line x1="457.30" y1="371.40" x2="457.30" y2="374.00" stroke="#2a2a2a" stroke-width="1.3"/>
<line x1="452.70" y1="371.40" x2="461.90" y2="371.40" stroke="#222" stroke-width="1.3"/>
<rect x="448.00" y="373.00" width="18.60" height="74.00" fill="#cdf8e7"/>
<rect x="448.00" y="373.00" width="2.20" height="74.00" fill="#000"/>
<rect x="464.40" y="373.00" width="2.20" height="74.00" fill="#000"/>
<rect x="448.00" y="373.00" width="18.60" height="2.20" fill="#000"/>
<line x1="485.70" y1="372.40" x2="485.70" y2="378.00" stroke="#2a2a2a" stroke-width="1.3"/>
<line x1="481.10" y1="372.40" x2="490.30" y2="372.40" stroke="#222" stroke-width="1.3"/>
<rect x="476.40" y="377.00" width="18.60" height="70.00" fill="#43efae"/>
<rect x="476.40" y="377.00" width="2.20" height="70.00" fill="#000"/>
<rect x="492.80" y="377.00" width="2.20" height="70.00" fill="#000"/>
<rect x="476.40" y="377.00" width="18.60" height="2.20" fill="#000"/>
<line x1="514.10" y1="371.60" x2="514.10" y2="374.40" stroke="#2a2a2a" stroke-width="1.3"/>
<line x1="509.50" y1="371.60" x2="518.70" y2="371.60" stroke="#222" stroke-width="1.3"/>
<rect x="504.80" y="373.40" width="18.60" height="73.60" fill="#43efae"/>
<rect x="504.80" y="373.40" width="2.20" height="73.60" fill="#000"/>
<rect x="521.20" y="373.40" width="2.20" height="73.60" fill="#000"/>
<rect x="504.80" y="373.40" width="18.60" height="2.20" fill="#000"/>
<line x1="542.50" y1="371.40" x2="542.50" y2="376.60" stroke="#2a2a2a" stroke-width="1.3"/>
<line x1="537.90" y1="371.40" x2="547.10" y2="371.40" stroke="#222" stroke-width="1.3"/>
<rect x="533.20" y="375.60" width="18.60" height="71.40" fill="#43efae"/>
<rect x="533.20" y="375.60" width="2.20" height="71.40" fill="#000"/>
<rect x="549.60" y="375.60" width="2.20" height="71.40" fill="#000"/>
<rect x="533.20" y="375.60" width="18.60" height="2.20" fill="#000"/>
<line x1="570.90" y1="371.60" x2="570.90" y2="384.00" stroke="#2a2a2a" stroke-width="1.3"/>
<line x1="566.30" y1="371.60" x2="575.50" y2="371.60" stroke="#222" stroke-width="1.3"/>
<rect x="561.60" y="383.00" width="18.60" height="64.00" fill="#08bd77"/>
<rect x="561.60" y="383.00" width="2.20" height="64.00" fill="#000"/>
<rect x="578.00" y="383.00" width="2.20" height="64.00" fill="#000"/>
<rect x="561.60" y="383.00" width="18.60" height="2.20" fill="#000"/>
<line x1="599.30" y1="371.40" x2="599.30" y2="383.00" stroke="#2a2a2a" stroke-width="1.3"/>
<line x1="594.70" y1="371.40" x2="603.90" y2="371.40" stroke="#222" stroke-width="1.3"/>
<rect x="590.00" y="382.00" width="18.60" height="65.00" fill="#08bd77"/>
<rect x="590.00" y="382.00" width="2.20" height="65.00" fill="#000"/>
<rect x="606.40" y="382.00" width="2.20" height="65.00" fill="#000"/>
<rect x="590.00" y="382.00" width="18.60" height="2.20" fill="#000"/>
<line x1="627.70" y1="374.40" x2="627.70" y2="376.60" stroke="#2a2a2a" stroke-width="1.3"/>
<line x1="623.10" y1="374.40" x2="632.30" y2="374.40" stroke="#222" stroke-width="1.3"/>
<rect x="618.40" y="375.60" width="18.60" height="71.40" fill="#08bd77"/>
<rect x="618.40" y="375.60" width="2.20" height="71.40" fill="#000"/>
<rect x="634.80" y="375.60" width="2.20" height="71.40" fill="#000"/>
<rect x="618.40" y="375.60" width="18.60" height="2.20" fill="#000"/>
<line x1="656.10" y1="313.20" x2="656.10" y2="324.30" stroke="#2a2a2a" stroke-width="1.3"/>
<line x1="651.50" y1="313.20" x2="660.70" y2="313.20" stroke="#222" stroke-width="1.3"/>
<rect x="646.80" y="323.30" width="18.60" height="123.70" fill="#066842"/>
<rect x="646.80" y="323.30" width="2.20" height="123.70" fill="#000"/>
<rect x="663.20" y="323.30" width="2.20" height="123.70" fill="#000"/>
<rect x="646.80" y="323.30" width="18.60" height="2.20" fill="#000"/>
<rect x="456.30" y="447.50" width="2.00" height="5.90" fill="#000"/>
<rect x="484.70" y="447.50" width="2.00" height="5.90" fill="#000"/>
<rect x="513.10" y="447.50" width="2.00" height="5.90" fill="#000"/>
<rect x="541.50" y="447.50" width="2.00" height="5.90" fill="#000"/>
<rect x="569.90" y="447.50" width="2.00" height="5.90" fill="#000"/>
<rect x="598.30" y="447.50" width="2.00" height="5.90" fill="#000"/>
<rect x="626.70" y="447.50" width="2.00" height="5.90" fill="#000"/>
<rect x="655.10" y="447.50" width="2.00" height="5.90" fill="#000"/>
<text x="641.12" y="311.84" font-size="15.14" font-weight="bold" textLength="6.14" lengthAdjust="spacingAndGlyphs" fill="#000">*</text>
<text x="648.62" y="311.84" font-size="15.14" font-weight="bold" textLength="6.14" lengthAdjust="spacingAndGlyphs" fill="#000">*</text>
<text x="656.12" y="311.84" font-size="15.14" font-weight="bold" textLength="6.14" lengthAdjust="spacingAndGlyphs" fill="#000">*</text>
<text x="663.62" y="311.84" font-size="15.14" font-weight="bold" textLength="6.14" lengthAdjust="spacingAndGlyphs" fill="#000">*</text>
<text x="511.90" y="293.70" font-size="13.6" font-weight="bold" textLength="53.93" lengthAdjust="spacingAndGlyphs" fill="#000">ROS 3 h</text>
<text x="355.98" y="270.00" font-size="20" font-weight="bold" textLength="25.97" lengthAdjust="spacingAndGlyphs" fill="#000">(d)</text>
<text transform="translate(400.20,391.32) rotate(-90)" font-size="13.3" font-weight="bold" textLength="42.62" lengthAdjust="spacingAndGlyphs">% ROS</text>
<text transform="translate(461.00,491.80) rotate(-90)" font-size="12" font-weight="bold" textLength="29.98" lengthAdjust="spacingAndGlyphs">Filter</text>
<text transform="translate(661.00,507.09) rotate(-90)" font-size="12" font-weight="bold" textLength="47.86" lengthAdjust="spacingAndGlyphs">+ve Con</text>
<text x="478.61" y="464.80" font-size="10" font-weight="bold" textLength="11.84" lengthAdjust="spacingAndGlyphs" fill="#000">10</text>
<text x="507.41" y="464.80" font-size="10" font-weight="bold" textLength="10.91" lengthAdjust="spacingAndGlyphs" fill="#000">50</text>
<text x="533.25" y="464.80" font-size="10" font-weight="bold" textLength="16.69" lengthAdjust="spacingAndGlyphs" fill="#000">100</text>
<text x="565.35" y="464.80" font-size="10" font-weight="bold" textLength="11.07" lengthAdjust="spacingAndGlyphs" fill="#000">10</text>
<text x="593.69" y="464.80" font-size="10" font-weight="bold" textLength="11.34" lengthAdjust="spacingAndGlyphs" fill="#000">50</text>
<text x="619.33" y="464.80" font-size="10" font-weight="bold" textLength="17.11" lengthAdjust="spacingAndGlyphs" fill="#000">100</text>
<path d="M475.6,463.7 V471.5 H554.3 V463.7" stroke="#000" stroke-width="1.9" fill="none"/>
<path d="M562.3,463.4 V471.3 H641.4 V463.4" stroke="#000" stroke-width="1.9" fill="none"/>
<text x="487.23" y="486.90" font-size="11" font-weight="bold" textLength="52.99" lengthAdjust="spacingAndGlyphs" fill="#000">HX Cond.</text>
<text x="577.32" y="486.70" font-size="11" font-weight="bold" textLength="38.19" lengthAdjust="spacingAndGlyphs" fill="#000">HX PM</text>
<text x="614.94" y="488.70" font-size="9" font-weight="bold" textLength="9.52" lengthAdjust="spacingAndGlyphs" fill="#000">10</text>
<text x="495.37" y="502.90" font-size="10.8" font-weight="bold" textLength="114.53" lengthAdjust="spacingAndGlyphs" fill="#000">Concentration (µg/mL)</text>
</svg>
</body></html>
